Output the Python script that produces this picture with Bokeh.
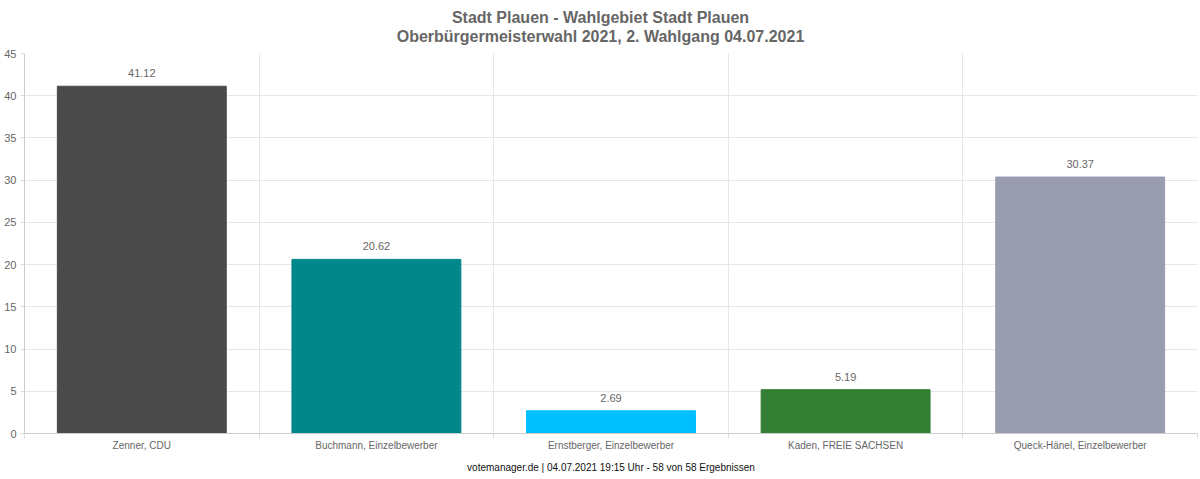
from bokeh.plotting import figure
from bokeh.layouts import column
from bokeh.models import ColumnDataSource, FixedTicker, Title, Range1d
from bokeh.core.properties import value
from bokeh.embed import file_html
from bokeh.resources import INLINE

title_lines = ["Stadt Plauen - Wahlgebiet Stadt Plauen",
               "Oberbürgermeisterwahl 2021, 2. Wahlgang 04.07.2021"]
footer = "votemanager.de | 04.07.2021 19:15 Uhr - 58 von 58 Ergebnissen"
candidates = ["Zenner, CDU", "Buchmann, Einzelbewerber", "Ernstberger, Einzelbewerber",
              "Kaden, FREIE SACHSEN", "Queck-Hänel, Einzelbewerber"]
percent = [41.12, 20.62, 2.69, 5.19, 30.37]
colors = ["#4a4a4a", "#008789", "#00bfff", "#357f35", "#9a9cb0"]
y_ticks = [0, 5, 10, 15, 20, 25, 30, 35, 40, 45]

FONT = "Liberation Sans"
W = 1200
ML, MR = 24, 3
TITLE_H = 45
MAIN_H = 479 - TITLE_H
n = len(candidates)
xs = [i + 0.5 for i in range(n)]
src = ColumnDataSource(dict(x=xs, top=percent, color=colors,
                            label=[f"{v:.2f}" for v in percent]))

# ---- title strip (pixel coordinates, frame aligned with main chart) ----
t = figure(width=W, height=TITLE_H, output_backend="svg", toolbar_location=None,
           x_range=Range1d(ML, W - MR), y_range=Range1d(0, TITLE_H),
           x_axis_location=None, y_axis_location=None,
           min_border_left=ML, min_border_right=MR, min_border_top=0, min_border_bottom=0)
t.outline_line_color = None
t.grid.visible = False
t.text(x=[W / 2] * 2, y=[TITLE_H - 17, TITLE_H - 36], text=title_lines,
       text_align="center", text_baseline="middle", text_font=value(FONT),
       text_font_size="16px", text_font_style="bold", text_color="#666666")

# ---- main chart ----
p = figure(width=W, height=MAIN_H, output_backend="svg", toolbar_location=None,
           x_range=Range1d(0, n), y_range=Range1d(0, 45),
           min_border_left=ML, min_border_right=MR, min_border_top=8, min_border_bottom=10)
p.outline_line_color = None
p.background_fill_color = "white"
p.border_fill_color = "white"

p.vbar(x="x", top="top", bottom=0, width=0.72, color="color", source=src)
p.text(x="x", y="top", text="label", source=src, text_align="center",
       text_baseline="bottom", y_offset=-9, text_font=value(FONT),
       text_font_size="11px", text_color="#666666")

xa = p.xaxis[0]
xa.ticker = FixedTicker(ticks=xs, minor_ticks=list(range(n + 1)))
xa.major_label_overrides = {x: c for x, c in zip(xs, candidates)}
xa.major_tick_line_color = None
xa.major_tick_out = 0
xa.major_tick_in = 0
xa.minor_tick_out = 5
xa.minor_tick_in = 0
xa.minor_tick_line_color = "#dddddd"
xa.axis_line_color = "#cccccc"
xa.major_label_text_font = FONT
xa.major_label_text_font_size = "10px"
xa.major_label_text_color = "#666666"
xa.major_label_standoff = 1

ya = p.yaxis[0]
ya.ticker = FixedTicker(ticks=y_ticks)
ya.axis_line_color = "#cccccc"
ya.major_tick_line_color = "#dddddd"
ya.major_tick_out = 4
ya.major_tick_in = 0
ya.minor_tick_line_color = None
ya.major_label_text_font = FONT
ya.major_label_text_font_size = "11px"
ya.major_label_text_color = "#666666"
ya.major_label_standoff = 4

p.xgrid.ticker = FixedTicker(ticks=list(range(n + 1)))
p.xgrid.grid_line_color = "#e6e6e6"
p.ygrid.grid_line_color = "#e6e6e6"

p.add_layout(Title(text=footer, align="center", text_font=FONT, text_font_size="10px",
                   text_font_style="normal", text_color="#111111", standoff=13), "below")

layout = column(t, p, spacing=0)
open("out.html", "w").write(file_html(layout, INLINE))
